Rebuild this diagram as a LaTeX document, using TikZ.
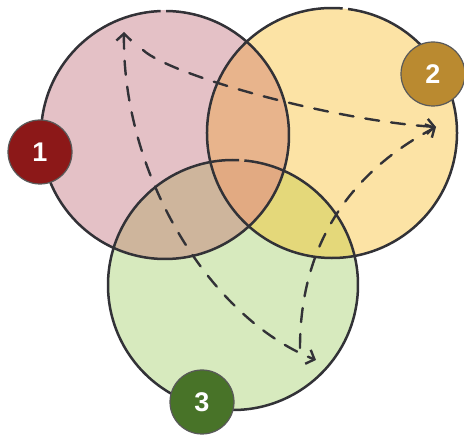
\documentclass[tikz,border=0pt]{standalone}
\usepackage{fontspec}
\setmainfont{Liberation Sans}
\usetikzlibrary{arrows.meta}
\definecolor{pinkfill}{RGB}{228,193,198}
\definecolor{yellowfill}{RGB}{252,227,165}
\definecolor{greenfill}{RGB}{215,234,190}
\definecolor{onetwo}{RGB}{232,180,140}
\definecolor{onethree}{RGB}{206,181,156}
\definecolor{twothree}{RGB}{228,216,122}
\definecolor{allthree}{RGB}{226,170,130}
\definecolor{outline}{RGB}{50,50,55}
\definecolor{badgeone}{RGB}{140,24,24}
\definecolor{badgetwo}{RGB}{186,138,48}
\definecolor{badgethree}{RGB}{72,115,40}
\begin{document}
\begin{tikzpicture}[x=1pt,y=-1pt,
  vennfill/.style={circle, inner sep=0pt, minimum size=250pt, draw=none},
  ring/.style={draw=outline, line width=2.5pt},
  badge/.style={circle, inner sep=0pt, minimum size=64pt, draw=black!65, line width=1.2pt,
    text=white, font=\bfseries\fontsize{27}{27}\selectfont},
  flow/.style={draw=outline, line width=2.4pt, line cap=round, dash pattern=on 14pt off 12pt}
]
\useasboundingbox (0,0) rectangle (464,435);
% fills
\node[vennfill, fill=pinkfill] (c1) at (165,135) {};
\node[vennfill, fill=yellowfill] (c2) at (332,133) {};
\node[vennfill, fill=greenfill] (c3) at (233,285) {};
\begin{scope}
  \clip (c1.center) circle[radius=125];
  \fill[onetwo] (c2.center) circle[radius=125];
  \fill[onethree] (c3.center) circle[radius=125];
\end{scope}
\begin{scope}
  \clip (c2.center) circle[radius=125];
  \fill[twothree] (c3.center) circle[radius=125];
  \clip (c1.center) circle[radius=125];
  \fill[allthree] (c3.center) circle[radius=125];
\end{scope}
% outlines (with the small gap at the top)
\draw[ring] (c1.center) ++(270.5:124) arc[start angle=270.5, end angle=628, radius=124];
\draw[ring] (c2.center) ++(277.4:125) arc[start angle=277.4, end angle=634.9, radius=125];
\draw[ring] (c3.center) ++(275.2:125) arc[start angle=275.2, end angle=632.8, radius=125];
% arrow end points
\coordinate (t1) at (124,32);
\coordinate (t2) at (436,127);
\coordinate (t3) at (316,360);
\coordinate (s12) at (143,50);
\coordinate (s32) at (300,348);
% dashed arrows
\draw[flow, {Straight Barb[length=7pt,width=15pt]}-{Straight Barb[length=7pt,width=15pt]}] (t1) .. controls (122,175) and (210,318) .. (t3);
\draw[flow, -{Straight Barb[length=7pt,width=15pt]}] (s12) .. controls (170,75) and (330,120) .. (t2);
\draw[flow, -{Straight Barb[length=7pt,width=15pt]}] (s32) .. controls (300,250) and (345,175) .. (t2);
% badges
\node[badge, fill=badgeone] (n1) at (40,152) {1};
\node[badge, fill=badgetwo] (n2) at (433,74) {2};
\node[badge, fill=badgethree] (n3) at (202,402) {3};
\end{tikzpicture}
\end{document}
